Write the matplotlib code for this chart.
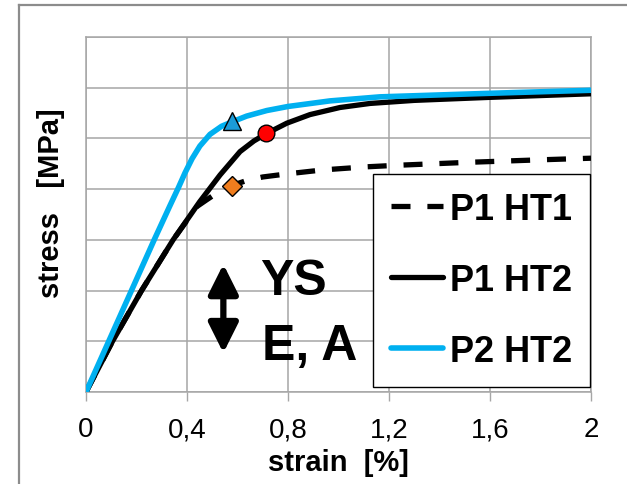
import matplotlib
matplotlib.use("Agg")
import matplotlib.pyplot as plt
from matplotlib.lines import Line2D

plt.rcParams['font.family'] = ['Liberation Sans', 'DejaVu Sans']

# curves (stress in grid units, no scale shown)
strain_p1_ht1 = [0, 0.105, 0.22, 0.345, 0.44, 0.478, 0.52, 0.577, 0.636, 0.70, 0.795,
                 0.94, 1.11, 1.23, 1.52, 1.81, 2.0]
stress_p1_ht1 = [0, 1.0, 2.0, 3.0, 3.66, 3.79, 3.93, 4.07, 4.17, 4.24, 4.30,
                 4.38, 4.44, 4.47, 4.53, 4.58, 4.61]

strain_p1_ht2 = [0, 0.105, 0.22, 0.345, 0.45, 0.531, 0.61, 0.665, 0.716, 0.795, 0.887,
                 1.006, 1.125, 1.3, 1.6, 2.0]
stress_p1_ht2 = [0, 1.0, 2.0, 3.0, 3.75, 4.28, 4.74, 4.95, 5.10, 5.30, 5.47,
                 5.61, 5.69, 5.75, 5.81, 5.88]

strain_p2_ht2 = [0, 0.09, 0.18, 0.27, 0.333, 0.366, 0.392, 0.42, 0.451, 0.491, 0.537,
                 0.58, 0.636, 0.716, 0.80, 0.966, 1.164, 1.6, 2.0]
stress_p2_ht2 = [0, 1.0, 2.0, 3.0, 3.68, 4.03, 4.32, 4.60, 4.85, 5.08, 5.24,
                 5.33, 5.44, 5.55, 5.63, 5.74, 5.82, 5.89, 5.95]

# yield points
ys_p1_ht1 = (0.578, 4.07)
ys_p1_ht2 = (0.714, 5.10)
ys_p2_ht2 = (0.58, 5.35)

labels = ["P1 HT1", "P1 HT2", "P2 HT2"]
xticks = [0, 0.4, 0.8, 1.2, 1.6, 2.0]
xtick_labels = ["0", "0,4", "0,8", "1,2", "1,6", "2"]

blue = "#00B0F0"
grid_col = "#A6A6A6"

fig = plt.figure(figsize=(6.27, 4.85), dpi=100)
ax = fig.add_axes([86 / 627, 92 / 485, 505 / 627, 355 / 485])

l1, = ax.plot(strain_p1_ht1, stress_p1_ht1, color="black", lw=3.8,
              dashes=(3.6, 3.2), zorder=3)
l2, = ax.plot(strain_p1_ht2, stress_p1_ht2, color="black", lw=3.8, zorder=4,
              solid_capstyle="round", solid_joinstyle="round")
l3, = ax.plot(strain_p2_ht2, stress_p2_ht2, color=blue, lw=4.0, zorder=5,
              solid_capstyle="round", solid_joinstyle="round")

ax.plot(*ys_p1_ht1, marker="D", ms=10, mfc="#F07D1E", mec="black", mew=1, zorder=6)
ax.plot(*ys_p1_ht2, marker="o", ms=12, mfc="#FF0000", mec="black", mew=1, zorder=6)
ax.plot(*ys_p2_ht2, marker="^", ms=13, mfc="#1B9BD8", mec="black", mew=1, zorder=6)

ax.set_xlim(0, 2)
ax.set_ylim(0, 7)
ax.set_xticks(xticks)
ax.set_xticklabels(xtick_labels, fontsize=20)
ax.set_yticks(range(8))
ax.set_yticklabels([])
ax.tick_params(axis="y", length=0)
ax.tick_params(axis="x", direction="out", length=6.5, width=1, color=grid_col, pad=11)
ax.grid(True, color=grid_col, lw=1.1)
ax.set_axisbelow(True)
for sp in ax.spines.values():
    sp.set_color(grid_col)
    sp.set_linewidth(1.1)

# double arrow with YS / E, A
ax.annotate("", xy=(0.544, 2.52), xytext=(0.544, 0.77),
            arrowprops=dict(arrowstyle="<|-|>,head_length=0.9,head_width=0.45",
                            mutation_scale=20, color="black", lw=4.5,
                            shrinkA=0, shrinkB=0), zorder=6)
ax.text(0.689, 1.93, "YS", fontsize=36, fontweight="bold", va="baseline", ha="left", zorder=6)
ax.text(0.697, 0.65, "E, A", fontsize=36, fontweight="bold", va="baseline", ha="left", zorder=6)

leg = ax.legend([l1, l2, l3], labels, loc="lower right",
                bbox_to_anchor=(0.998, 0.014), borderaxespad=0,
                prop=dict(size=26, weight="bold"), handlelength=1.45,
                handletextpad=0.18, labelspacing=1.0, borderpad=0.5,
                fancybox=False, framealpha=1, edgecolor="black")
leg.get_frame().set_linewidth(1.0)
leg.set_zorder(7)

fig.text(338 / 627, 1 - 463 / 485, "strain  [%]", fontsize=21, fontweight="bold",
         ha="center", va="center")
fig.text(51 / 627, 1 - 203 / 485, "stress   [MPa]", fontsize=21, fontweight="bold",
         ha="center", va="center", rotation=90)

# outer chart border
fig.add_artist(Line2D([19 / 627, 19 / 627], [0, 1 - 6 / 485], color="#8C8C8C", lw=1.6,
                      transform=fig.transFigure))
fig.add_artist(Line2D([19 / 627, 1], [1 - 6 / 485, 1 - 6 / 485], color="#8C8C8C", lw=1.6,
                      transform=fig.transFigure))

fig.savefig("out.png", dpi=100)
